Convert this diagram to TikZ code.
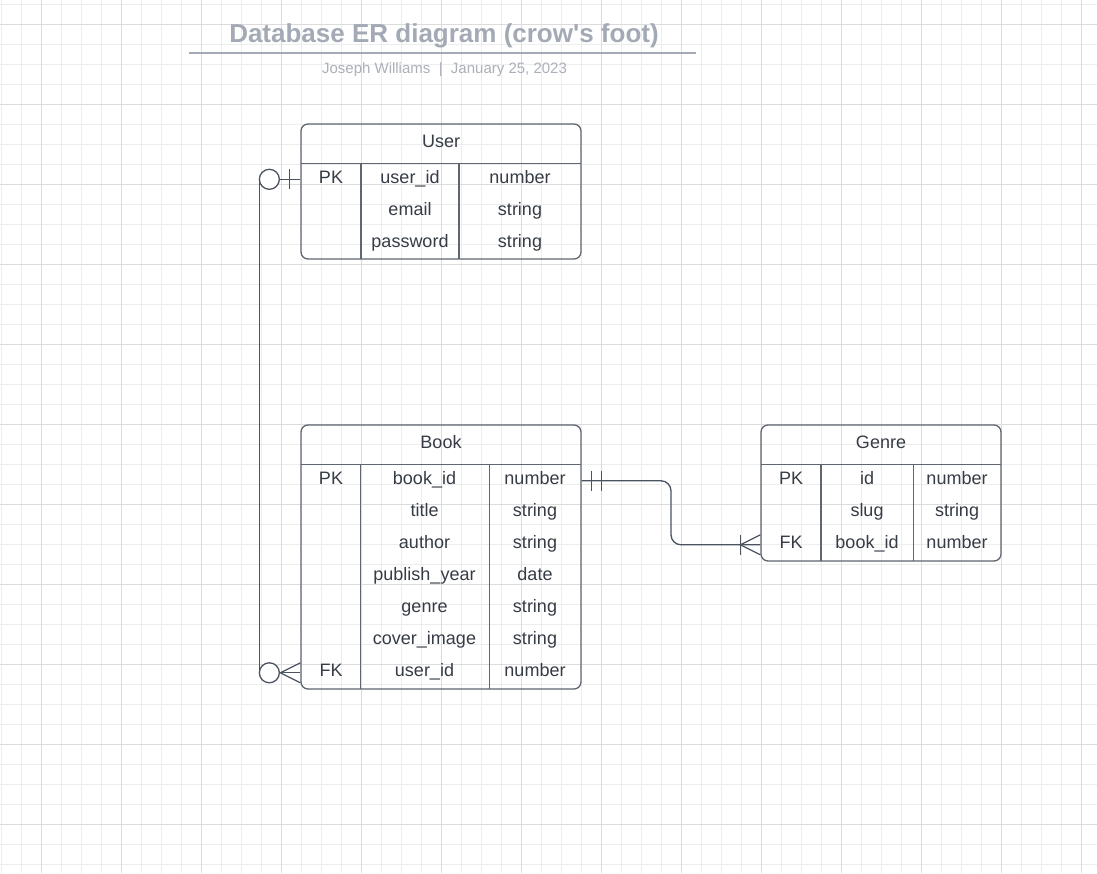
\documentclass[tikz,border=0pt]{standalone}
\usepackage{fontspec}
\setmainfont{Liberation Sans}
\usetikzlibrary{calc}

\definecolor{gridminor}{HTML}{EDEDED}
\definecolor{gridmajor}{HTML}{DCDCDC}
\definecolor{titlegray}{HTML}{A4AAB5}
\definecolor{bylinegray}{HTML}{ABB0B9}
\definecolor{tableline}{HTML}{5F666F}
\definecolor{linkline}{HTML}{4B5360}
\definecolor{celltext}{HTML}{363C45}

\begin{document}
\begin{tikzpicture}[x=1pt, y=-1pt,
        tbl/.style={draw=tableline, line width=1.3pt, rounded corners=7pt, inner sep=0pt},
        sep/.style={draw=tableline, line width=1.3pt},
        cell/.style={anchor=base, inner sep=0pt, text=celltext, font=\fontsize{18}{21}\selectfont},
        rel/.style={draw=linkline, line width=1.3pt},
        knot/.style={circle, draw=linkline, fill=white, line width=1.3pt, minimum size=20pt, inner sep=0pt}]

    \useasboundingbox (0,0) rectangle (1097,873);
    \fill[white] (0,0) rectangle (1097,873);

    % grid
    \foreach \x in {1.5,21.5,...,1097}
        \draw[gridminor, line width=1pt] (\x,0) -- (\x,873);
    \foreach \y in {4.3,24.3,...,873}
        \draw[gridminor, line width=1pt] (0,\y) -- (1097,\y);
    \foreach \x in {41.5,121.5,...,1097}
        \draw[gridmajor, line width=1pt] (\x,0) -- (\x,873);
    \foreach \y in {24.3,104.3,...,873}
        \draw[gridmajor, line width=1pt] (0,\y) -- (1097,\y);

    % title
    \node[anchor=base, inner sep=0pt, text=titlegray, font=\bfseries\fontsize{26}{30}\selectfont] (title) at (444,42.5) {Database ER diagram (crow\textquotesingle s foot)};
    \draw[titlegray, line width=2pt] (189,52.7) -- (696,52.7);
    \node[anchor=base, inner sep=0pt, text=bylinegray, font=\fontsize{15}{18}\selectfont] (byline) at (444.5,73.3) {Joseph Williams\ \ |\ \ January 25, 2023};

    % User
    \node[tbl, minimum width=280pt, minimum height=135pt] (user) at (441,191.5) {};
    \node[cell] (user-name) at (441,147.5) {User};
    \draw[sep] (301,163.3) -- (581,163.3);
    \draw[sep] (361,163.3) -- (361,259);
    \draw[sep] (459,163.3) -- (459,259);
    \foreach \k/\f/\t [count=\i] in {PK/user\_id/number, {}/email/string, {}/password/string}
        {
            \node[cell] (user-k\i) at (331,{163.3+20+32*(\i-1)}) {\k};
            \node[cell] (user-f\i) at (410,{163.3+20+32*(\i-1)}) {\f};
            \node[cell] (user-t\i) at (520,{163.3+20+32*(\i-1)}) {\t};
            \coordinate (user-r\i) at (441,{163.3+16+32*(\i-1)});
        }

    % Book
    \node[tbl, minimum width=280pt, minimum height=264pt] (book) at (441,557) {};
    \node[cell] (book-name) at (441,448.5) {Book};
    \draw[sep] (301,464.3) -- (581,464.3);
    \draw[sep] (360.5,464.3) -- (360.5,689);
    \draw[sep] (489.3,464.3) -- (489.3,689);
    \foreach \k/\f/\t [count=\i] in {PK/book\_id/number, {}/title/string, {}/author/string, {}/publish\_year/date, {}/genre/string, {}/cover\_image/string, FK/user\_id/number}
        {
            \node[cell] (book-k\i) at (331,{464.3+20+32*(\i-1)}) {\k};
            \node[cell] (book-f\i) at (424.5,{464.3+20+32*(\i-1)}) {\f};
            \node[cell] (book-t\i) at (535,{464.3+20+32*(\i-1)}) {\t};
            \coordinate (book-r\i) at (441,{464.3+16.5+32*(\i-1)});
        }

    % Genre
    \node[tbl, minimum width=240pt, minimum height=136pt] (genre) at (881,493) {};
    \node[cell] (genre-name) at (881,448.5) {Genre};
    \draw[sep] (761,464.3) -- (1001,464.3);
    \draw[sep] (821,464.3) -- (821,561);
    \draw[sep] (913.3,464.3) -- (913.3,561);
    \foreach \k/\f/\t [count=\i] in {PK/id/number, {}/slug/string, FK/book\_id/number}
        {
            \node[cell] (genre-k\i) at (791,{464.3+20+32*(\i-1)}) {\k};
            \node[cell] (genre-f\i) at (867,{464.3+20+32*(\i-1)}) {\f};
            \node[cell] (genre-t\i) at (957,{464.3+20+32*(\i-1)}) {\t};
            \coordinate (genre-r\i) at (881,{464.3+16.5+32*(\i-1)});
        }

    % User (one) to Book (zero or many)
    \draw[rel] (user.west |- user-r1) -- ++(-41,0) |- (book.west |- book-r7);
    \node[knot] (user-o) at ($(user.west |- user-r1)+(-31,0)$) {};
    \draw[rel] ($(user.west |- user-r1)+(-11,-10)$) -- ++(0,20);
    \node[knot] (book-o) at ($(book.west |- book-r7)+(-31,0)$) {};
    \draw[rel] ($(book.west |- book-r7)+(0,-10)$) -- ($(book.west |- book-r7)+(-20,0)$) -- ($(book.west |- book-r7)+(0,10)$);

    % Book (one and only one) to Genre (one or many)
    \draw[rel, rounded corners=10pt] (book.east |- book-r1) -| ($(book.east |- book-r1)!0.5!(genre.west |- genre-r3)$) |- (genre.west |- genre-r3);
    \draw[rel] ($(book.east |- book-r1)+(10,-10)$) -- ++(0,20);
    \draw[rel] ($(book.east |- book-r1)+(20,-10)$) -- ++(0,20);
    \draw[rel] ($(genre.west |- genre-r3)+(-20,-10)$) -- ++(0,20);
    \draw[rel] ($(genre.west |- genre-r3)+(0,-10)$) -- ($(genre.west |- genre-r3)+(-20,0)$) -- ($(genre.west |- genre-r3)+(0,10)$);
\end{tikzpicture}
\end{document}
